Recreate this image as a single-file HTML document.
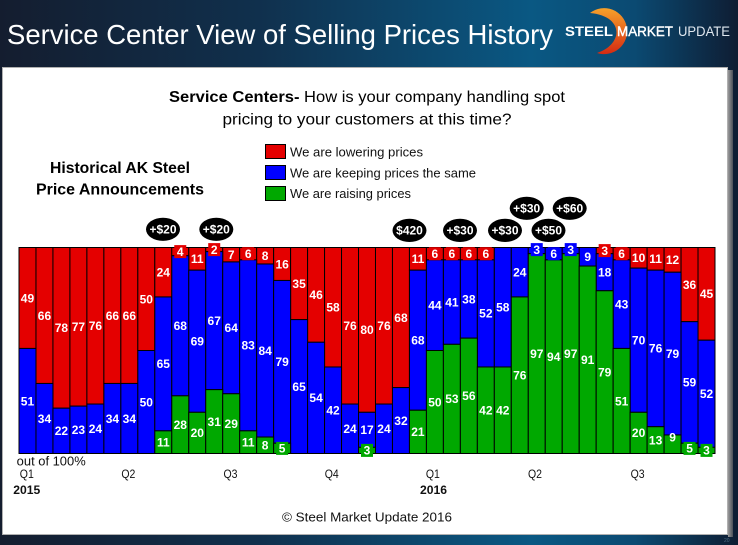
<!DOCTYPE html>
<html><head><meta charset="utf-8"><style>html,body{margin:0;padding:0;background:#0f2238;}svg{display:block;}</style></head>
<body>
<svg width="738" height="545" viewBox="0 0 738 545" xmlns="http://www.w3.org/2000/svg" font-family="'Liberation Sans', Arial, sans-serif">
<defs>
<linearGradient id="hdr" x1="0" x2="1" y1="0" y2="0">
<stop offset="0" stop-color="#141d2f"/>
<stop offset="0.35" stop-color="#10304d"/>
<stop offset="0.72" stop-color="#0a5883"/>
<stop offset="0.86" stop-color="#0b4a72"/>
<stop offset="1" stop-color="#0e1d33"/>
</linearGradient>
<linearGradient id="arc" x1="0" y1="0" x2="0" y2="1"><stop offset="0" stop-color="#f7a12a"/><stop offset="1" stop-color="#d42a12"/></linearGradient>
<linearGradient id="shd" x1="0" x2="1" y1="0" y2="0"><stop offset="0" stop-color="#9a9a9a"/><stop offset="1" stop-color="#4a4f58"/></linearGradient>
</defs>
<rect width="738" height="545" fill="url(#hdr)"/>

<!-- header -->
<text x="7" y="44" font-size="28" fill="#fff" textLength="546" lengthAdjust="spacingAndGlyphs">Service Center View of Selling Prices History</text>
<path d="M590,13 A23,23 0 1,1 597,53 C624,44 624,16 590,13 Z" fill="url(#arc)"/>
<text x="565" y="36" font-size="14" font-weight="bold" fill="#fff" textLength="48" lengthAdjust="spacingAndGlyphs">STEEL</text>
<text x="617" y="36" font-size="14" fill="#fff" stroke="#fff" stroke-width="0.4" textLength="56" lengthAdjust="spacingAndGlyphs">MARKET</text>
<text x="678" y="36" font-size="14" fill="#dfe7ef" textLength="52" lengthAdjust="spacingAndGlyphs">UPDATE</text>

<!-- panel -->
<rect x="728" y="70" width="5" height="467" fill="url(#shd)"/>
<rect x="2.5" y="67.5" width="725" height="467" fill="#fff" stroke="#b0b0b0"/>

<!-- subtitle -->
<text x="169" y="102" font-size="16" fill="#000" textLength="396" lengthAdjust="spacingAndGlyphs"><tspan font-weight="bold">Service Centers-</tspan> How is your company handling spot</text>
<text x="222.5" y="124.5" font-size="16" fill="#000" textLength="289" lengthAdjust="spacingAndGlyphs">pricing to your customers at this time?</text>

<text x="50" y="173" font-size="16" font-weight="bold" fill="#000" textLength="140" lengthAdjust="spacingAndGlyphs">Historical AK Steel</text>
<text x="36" y="194.5" font-size="16" font-weight="bold" fill="#000" textLength="168" lengthAdjust="spacingAndGlyphs">Price Announcements</text>

<!-- legend -->
<rect x="265.5" y="144.5" width="20" height="14" fill="#e40000" stroke="#000"/>
<rect x="265.5" y="165.5" width="20" height="14" fill="#0000ff" stroke="#000"/>
<rect x="265.5" y="186.5" width="20" height="14" fill="#00a800" stroke="#000"/>
<text x="290" y="156.7" font-size="13" fill="#111" textLength="133" lengthAdjust="spacingAndGlyphs">We are lowering prices</text>
<text x="290" y="177.3" font-size="13" fill="#111" textLength="186" lengthAdjust="spacingAndGlyphs">We are keeping prices the same</text>
<text x="290" y="198" font-size="13" fill="#111" textLength="121" lengthAdjust="spacingAndGlyphs">We are raising prices</text>

<!-- bars -->
<g stroke="#000" stroke-width="1">
<g fill="#e40000">
<rect x="19" y="247.5" width="16.98" height="100.94"/>
<rect x="35.98" y="247.5" width="16.98" height="135.96"/>
<rect x="52.95" y="247.5" width="16.98" height="160.68"/>
<rect x="69.93" y="247.5" width="16.98" height="158.62"/>
<rect x="86.90" y="247.5" width="16.98" height="156.56"/>
<rect x="103.88" y="247.5" width="16.98" height="135.96"/>
<rect x="120.85" y="247.5" width="16.98" height="135.96"/>
<rect x="137.83" y="247.5" width="16.98" height="103"/>
<rect x="154.80" y="247.5" width="16.98" height="49.44"/>
<rect x="171.78" y="247.5" width="16.98" height="8.24"/>
<rect x="188.76" y="247.5" width="16.98" height="22.66"/>
<rect x="205.73" y="247.5" width="16.98" height="4.12"/>
<rect x="222.71" y="247.5" width="16.98" height="14.42"/>
<rect x="239.68" y="247.5" width="16.98" height="12.36"/>
<rect x="256.66" y="247.5" width="16.98" height="16.48"/>
<rect x="273.63" y="247.5" width="16.98" height="32.96"/>
<rect x="290.61" y="247.5" width="16.98" height="72.1"/>
<rect x="307.59" y="247.5" width="16.98" height="94.76"/>
<rect x="324.56" y="247.5" width="16.98" height="119.48"/>
<rect x="341.54" y="247.5" width="16.98" height="156.56"/>
<rect x="358.51" y="247.5" width="16.98" height="164.8"/>
<rect x="375.49" y="247.5" width="16.98" height="156.56"/>
<rect x="392.46" y="247.5" width="16.98" height="140.08"/>
<rect x="409.44" y="247.5" width="16.98" height="22.66"/>
<rect x="426.41" y="247.5" width="16.98" height="12.36"/>
<rect x="443.39" y="247.5" width="16.98" height="12.36"/>
<rect x="460.37" y="247.5" width="16.98" height="12.36"/>
<rect x="477.34" y="247.5" width="16.98" height="12.36"/>
<rect x="596.17" y="247.5" width="16.98" height="6.18"/>
<rect x="613.15" y="247.5" width="16.98" height="12.36"/>
<rect x="630.12" y="247.5" width="16.98" height="20.6"/>
<rect x="647.10" y="247.5" width="16.98" height="22.66"/>
<rect x="664.07" y="247.5" width="16.98" height="24.72"/>
<rect x="681.05" y="247.5" width="16.98" height="74.16"/>
<rect x="698.02" y="247.5" width="16.98" height="92.7"/>
</g>
<g fill="#0000ff">
<rect x="19" y="348.44" width="16.98" height="105.06"/>
<rect x="35.98" y="383.46" width="16.98" height="70.04"/>
<rect x="52.95" y="408.18" width="16.98" height="45.32"/>
<rect x="69.93" y="406.12" width="16.98" height="47.38"/>
<rect x="86.90" y="404.06" width="16.98" height="49.44"/>
<rect x="103.88" y="383.46" width="16.98" height="70.04"/>
<rect x="120.85" y="383.46" width="16.98" height="70.04"/>
<rect x="137.83" y="350.5" width="16.98" height="103"/>
<rect x="154.80" y="296.94" width="16.98" height="133.9"/>
<rect x="171.78" y="255.74" width="16.98" height="140.08"/>
<rect x="188.76" y="270.16" width="16.98" height="142.14"/>
<rect x="205.73" y="251.62" width="16.98" height="138.02"/>
<rect x="222.71" y="261.92" width="16.98" height="131.84"/>
<rect x="239.68" y="259.86" width="16.98" height="170.98"/>
<rect x="256.66" y="263.98" width="16.98" height="173.04"/>
<rect x="273.63" y="280.46" width="16.98" height="162.74"/>
<rect x="290.61" y="319.6" width="16.98" height="133.9"/>
<rect x="307.59" y="342.26" width="16.98" height="111.24"/>
<rect x="324.56" y="366.98" width="16.98" height="86.52"/>
<rect x="341.54" y="404.06" width="16.98" height="49.44"/>
<rect x="358.51" y="412.3" width="16.98" height="35.02"/>
<rect x="375.49" y="404.06" width="16.98" height="49.44"/>
<rect x="392.46" y="387.58" width="16.98" height="65.92"/>
<rect x="409.44" y="270.16" width="16.98" height="140.08"/>
<rect x="426.41" y="259.86" width="16.98" height="90.64"/>
<rect x="443.39" y="259.86" width="16.98" height="84.46"/>
<rect x="460.37" y="259.86" width="16.98" height="78.28"/>
<rect x="477.34" y="259.86" width="16.98" height="107.12"/>
<rect x="494.32" y="247.5" width="16.98" height="119.48"/>
<rect x="511.29" y="247.5" width="16.98" height="49.44"/>
<rect x="528.27" y="247.5" width="16.98" height="6.18"/>
<rect x="545.24" y="247.5" width="16.98" height="12.36"/>
<rect x="562.22" y="247.5" width="16.98" height="6.18"/>
<rect x="579.20" y="247.5" width="16.98" height="18.54"/>
<rect x="596.17" y="253.68" width="16.98" height="37.08"/>
<rect x="613.15" y="259.86" width="16.98" height="88.58"/>
<rect x="630.12" y="268.1" width="16.98" height="144.2"/>
<rect x="647.10" y="270.16" width="16.98" height="156.56"/>
<rect x="664.07" y="272.22" width="16.98" height="162.74"/>
<rect x="681.05" y="321.66" width="16.98" height="121.54"/>
<rect x="698.02" y="340.2" width="16.98" height="107.12"/>
</g>
<g fill="#00a800">
<rect x="154.80" y="430.84" width="16.98" height="22.66"/>
<rect x="171.78" y="395.82" width="16.98" height="57.68"/>
<rect x="188.76" y="412.3" width="16.98" height="41.2"/>
<rect x="205.73" y="389.64" width="16.98" height="63.86"/>
<rect x="222.71" y="393.76" width="16.98" height="59.74"/>
<rect x="239.68" y="430.84" width="16.98" height="22.66"/>
<rect x="256.66" y="437.02" width="16.98" height="16.48"/>
<rect x="273.63" y="443.2" width="16.98" height="10.3"/>
<rect x="358.51" y="447.32" width="16.98" height="6.18"/>
<rect x="409.44" y="410.24" width="16.98" height="43.26"/>
<rect x="426.41" y="350.5" width="16.98" height="103"/>
<rect x="443.39" y="344.32" width="16.98" height="109.18"/>
<rect x="460.37" y="338.14" width="16.98" height="115.36"/>
<rect x="477.34" y="366.98" width="16.98" height="86.52"/>
<rect x="494.32" y="366.98" width="16.98" height="86.52"/>
<rect x="511.29" y="296.94" width="16.98" height="156.56"/>
<rect x="528.27" y="253.68" width="16.98" height="199.82"/>
<rect x="545.24" y="259.86" width="16.98" height="193.64"/>
<rect x="562.22" y="253.68" width="16.98" height="199.82"/>
<rect x="579.20" y="266.04" width="16.98" height="187.46"/>
<rect x="596.17" y="290.76" width="16.98" height="162.74"/>
<rect x="613.15" y="348.44" width="16.98" height="105.06"/>
<rect x="630.12" y="412.3" width="16.98" height="41.2"/>
<rect x="647.10" y="426.72" width="16.98" height="26.78"/>
<rect x="664.07" y="434.96" width="16.98" height="18.54"/>
<rect x="681.05" y="443.2" width="16.98" height="10.3"/>
<rect x="698.02" y="447.32" width="16.98" height="6.18"/>
</g>
</g>

<!-- small label boxes -->
<g fill="#e40000">
<rect x="174.27" y="245.1" width="12" height="13"/>
<rect x="208.22" y="243.1" width="12" height="13"/>
<rect x="242.17" y="247.2" width="12" height="13"/>
<rect x="428.90" y="247.2" width="12" height="13"/>
<rect x="445.88" y="247.2" width="12" height="13"/>
<rect x="462.86" y="247.2" width="12" height="13"/>
<rect x="479.83" y="247.2" width="12" height="13"/>
<rect x="598.66" y="244.1" width="12" height="13"/>
<rect x="615.64" y="247.2" width="12" height="13"/>
</g>
<g fill="#0000ff">
<rect x="530.76" y="243.1" width="12" height="13"/>
<rect x="547.73" y="247.2" width="12" height="13"/>
<rect x="564.71" y="243.1" width="12" height="13"/>
</g>
<g fill="#00a800">
<rect x="276.12" y="441.9" width="12" height="13"/>
<rect x="361.00" y="443.9" width="12" height="13"/>
<rect x="683.54" y="441.9" width="12" height="13"/>
<rect x="700.51" y="443.9" width="12" height="13"/>
</g>

<!-- bar labels -->
<g fill="#fff" font-size="12" font-weight="bold" text-anchor="middle">
<text x="27.49" y="302.3">49</text><text x="27.49" y="405.3">51</text>
<text x="44.47" y="319.8">66</text><text x="44.47" y="422.8">34</text>
<text x="61.44" y="332.1">78</text><text x="61.44" y="435.1">22</text>
<text x="78.42" y="331.1">77</text><text x="78.42" y="434.1">23</text>
<text x="95.39" y="330.1">76</text><text x="95.39" y="433.1">24</text>
<text x="112.37" y="319.8">66</text><text x="112.37" y="422.8">34</text>
<text x="129.34" y="319.8">66</text><text x="129.34" y="422.8">34</text>
<text x="146.32" y="303.3">50</text><text x="146.32" y="406.3">50</text>
<text x="163.29" y="276.5">24</text><text x="163.29" y="368.2">65</text><text x="163.29" y="446.5">11</text>
<text x="180.27" y="255.9">4</text><text x="180.27" y="330.1">68</text><text x="180.27" y="429">28</text>
<text x="197.25" y="263.1">11</text><text x="197.25" y="345.5">69</text><text x="197.25" y="437.2">20</text>
<text x="214.22" y="253.9">2</text><text x="214.22" y="324.9">67</text><text x="214.22" y="425.9">31</text>
<text x="231.20" y="259">7</text><text x="231.20" y="332.1">64</text><text x="231.20" y="427.9">29</text>
<text x="248.17" y="258">6</text><text x="248.17" y="349.6">83</text><text x="248.17" y="446.5">11</text>
<text x="265.15" y="260">8</text><text x="265.15" y="354.8">84</text><text x="265.15" y="449.6">8</text>
<text x="282.12" y="268.3">16</text><text x="282.12" y="366.1">79</text><text x="282.12" y="452.7">5</text>
<text x="299.10" y="287.9">35</text><text x="299.10" y="390.9">65</text>
<text x="316.08" y="299.2">46</text><text x="316.08" y="402.2">54</text>
<text x="333.05" y="311.5">58</text><text x="333.05" y="414.5">42</text>
<text x="350.03" y="330.1">76</text><text x="350.03" y="433.1">24</text>
<text x="367.00" y="334.2">80</text><text x="367.00" y="434.1">17</text><text x="367.00" y="454.7">3</text>
<text x="383.98" y="330.1">76</text><text x="383.98" y="433.1">24</text>
<text x="400.95" y="321.8">68</text><text x="400.95" y="424.8">32</text>
<text x="417.93" y="263.1">11</text><text x="417.93" y="344.5">68</text><text x="417.93" y="436.2">21</text>
<text x="434.90" y="258">6</text><text x="434.90" y="309.5">44</text><text x="434.90" y="406.3">50</text>
<text x="451.88" y="258">6</text><text x="451.88" y="306.4">41</text><text x="451.88" y="403.2">53</text>
<text x="468.86" y="258">6</text><text x="468.86" y="303.3">38</text><text x="468.86" y="400.1">56</text>
<text x="485.83" y="258">6</text><text x="485.83" y="317.7">52</text><text x="485.83" y="414.5">42</text>
<text x="502.81" y="311.5">58</text><text x="502.81" y="414.5">42</text>
<text x="519.78" y="276.5">24</text><text x="519.78" y="379.5">76</text>
<text x="536.76" y="254">3</text><text x="536.76" y="357.9">97</text>
<text x="553.73" y="258">6</text><text x="553.73" y="361">94</text>
<text x="570.71" y="254">3</text><text x="570.71" y="357.9">97</text>
<text x="587.69" y="261.1">9</text><text x="587.69" y="364.1">91</text>
<text x="604.66" y="255">3</text><text x="604.66" y="276.5">18</text><text x="604.66" y="376.4">79</text>
<text x="621.64" y="258">6</text><text x="621.64" y="308.5">43</text><text x="621.64" y="405.3">51</text>
<text x="638.61" y="262.1">10</text><text x="638.61" y="344.5">70</text><text x="638.61" y="437.2">20</text>
<text x="655.59" y="263.1">11</text><text x="655.59" y="352.7">76</text><text x="655.59" y="444.4">13</text>
<text x="672.56" y="264.2">12</text><text x="672.56" y="357.9">79</text><text x="672.56" y="441.5">9</text>
<text x="689.54" y="288.9">36</text><text x="689.54" y="386.7">59</text><text x="689.54" y="452.7">5</text>
<text x="706.51" y="298.2">45</text><text x="706.51" y="398.1">52</text><text x="706.51" y="454.7">3</text>
</g>

<!-- price bubbles -->
<g fill="#000">
<ellipse cx="526.7" cy="208.3" rx="17" ry="11.6"/>
<ellipse cx="569.7" cy="208.3" rx="17" ry="11.6"/>
<ellipse cx="163" cy="229.3" rx="17" ry="11.6"/>
<ellipse cx="216.3" cy="229.3" rx="17" ry="11.6"/>
<ellipse cx="409.5" cy="230.4" rx="17" ry="11.6"/>
<ellipse cx="460" cy="230.4" rx="17" ry="11.6"/>
<ellipse cx="505" cy="230.4" rx="17" ry="11.6"/>
<ellipse cx="548.5" cy="230.4" rx="17" ry="11.6"/>
</g>
<g fill="#fff" font-size="12" font-weight="bold" text-anchor="middle">
<text x="526.7" y="212.6">+$30</text>
<text x="569.7" y="212.6">+$60</text>
<text x="163" y="233.6">+$20</text>
<text x="216.3" y="233.6">+$20</text>
<text x="409.5" y="234.7">$420</text>
<text x="460" y="234.7">+$30</text>
<text x="505" y="234.7">+$30</text>
<text x="548.5" y="234.7">+$50</text>
</g>

<!-- axis text -->
<text x="16.7" y="465.5" font-size="12.5" fill="#111" textLength="69" lengthAdjust="spacingAndGlyphs">out of 100%</text>
<g font-size="11.5" fill="#111">
<text x="19.8" y="478" textLength="14" lengthAdjust="spacingAndGlyphs">Q1</text>
<text x="121.4" y="478" textLength="14" lengthAdjust="spacingAndGlyphs">Q2</text>
<text x="223.5" y="478" textLength="14" lengthAdjust="spacingAndGlyphs">Q3</text>
<text x="324.7" y="478" textLength="14" lengthAdjust="spacingAndGlyphs">Q4</text>
<text x="425.9" y="478" textLength="14" lengthAdjust="spacingAndGlyphs">Q1</text>
<text x="528" y="478" textLength="14" lengthAdjust="spacingAndGlyphs">Q2</text>
<text x="630.6" y="478" textLength="14" lengthAdjust="spacingAndGlyphs">Q3</text>
</g>
<text x="13.3" y="494" font-size="11.5" font-weight="bold" fill="#111" textLength="27" lengthAdjust="spacingAndGlyphs">2015</text>
<text x="420" y="494" font-size="11.5" font-weight="bold" fill="#111" textLength="27" lengthAdjust="spacingAndGlyphs">2016</text>
<text x="282" y="521.7" font-size="13" fill="#111" textLength="170" lengthAdjust="spacingAndGlyphs">© Steel Market Update 2016</text>
<text x="724" y="542" font-size="5" fill="#4d6c84">20</text>
</svg>
</body></html>
